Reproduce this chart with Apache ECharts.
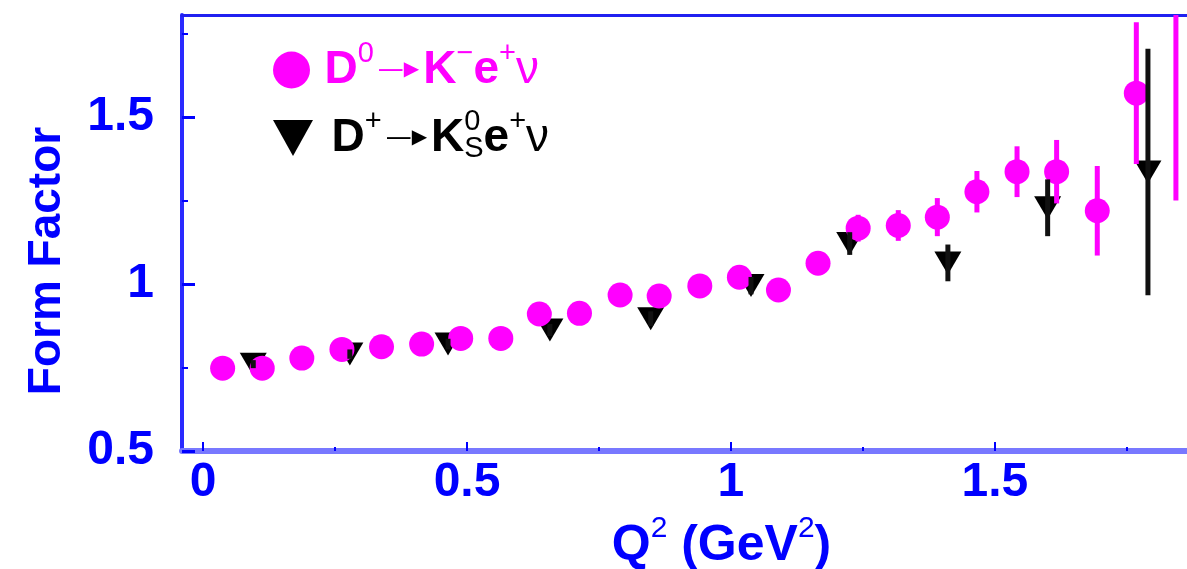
<!DOCTYPE html>
<html>
<head>
<meta charset="utf-8">
<script src="https://cdn.jsdelivr.net/npm/echarts@6/dist/echarts.min.js"></script>
<style>
  html, body { margin: 0; padding: 0; background: #ffffff; }
  #chart { width: 1187px; height: 569px; }
</style>
</head>
<body>
<div id="chart"></div>
<script>
// D0 -> K- e+ nu : Q^2 bin centres (GeV^2), form factor, uncertainty
const d0Q2 = [0.037, 0.112, 0.187, 0.263, 0.338, 0.414, 0.488, 0.564, 0.637, 0.713,
              0.790, 0.864, 0.941, 1.016, 1.090, 1.165, 1.241, 1.317, 1.391, 1.466,
              1.542, 1.617, 1.694, 1.768, 1.843];
const d0FF  = [0.748, 0.748, 0.778, 0.804, 0.812, 0.820, 0.837, 0.837, 0.910, 0.912,
              0.967, 0.964, 0.994, 1.020, 0.982, 1.062, 1.167, 1.175, 1.200, 1.276,
              1.336, 1.336, 1.219, 1.571, 1.900];
const d0Err = [0.010, 0.010, 0.012, 0.012, 0.014, 0.015, 0.016, 0.017, 0.018, 0.020,
              0.022, 0.024, 0.026, 0.028, 0.030, 0.034, 0.040, 0.046, 0.057, 0.062,
              0.076, 0.095, 0.134, 0.212, 0.650];

// D+ -> K0S e+ nu
const dpQ2  = [0.095, 0.278, 0.464, 0.657, 0.848, 1.038, 1.225, 1.411, 1.600, 1.790];
const dpFF  = [0.760, 0.790, 0.820, 0.862, 0.896, 0.995, 1.121, 1.063, 1.228, 1.335];
const dpErr = [0.012, 0.014, 0.016, 0.018, 0.022, 0.026, 0.034, 0.055, 0.085, 0.369];

// axis ranges and tick positions
const xMin = -0.04, xMax = 1.864;
const yMin = 0.5,   yMax = 1.805;
const xTicks = [0, 0.5, 1, 1.5];
const xMinorTicks = [0.25, 0.75, 1.25, 1.75];
const yTicks = [0.5, 1, 1.5];
const yMinorTicks = [0.75, 1.25, 1.75];

const FONT = "'Liberation Sans', Arial, Helvetica, sans-serif";
const BLUE = '#0000ff';
const MAGENTA = '#ff00ff';

function errorBars(xs, ys, errs, color, width, z) {
  return {
    type: 'custom',
    z: z,
    clip: true,
    silent: true,
    data: xs.map((x, i) => [x, ys[i] - errs[i], ys[i] + errs[i]]),
    encode: { x: 0, y: [1, 2] },
    renderItem: function (params, api) {
      const lo = api.coord([api.value(0), api.value(1)]);
      const hi = api.coord([api.value(0), api.value(2)]);
      return {
        type: 'line',
        shape: { x1: lo[0], y1: lo[1], x2: hi[0], y2: hi[1] },
        style: { stroke: color, lineWidth: width }
      };
    }
  };
}

// rich-text styles for the legend labels (superscripts, subscript, arrow)
function legendRich(color) {
  return {
    b: { fontSize: 46, fontWeight: 'bold', color: color, fontFamily: FONT, lineHeight: 62 },
    n: { fontSize: 46, fontWeight: 'normal', color: color, fontFamily: FONT, lineHeight: 62 },
    s: { fontSize: 29, color: color, fontFamily: FONT, verticalAlign: 'top', lineHeight: 30 },
    z: { fontSize: 29, color: color, fontFamily: FONT, verticalAlign: 'top', lineHeight: 30, width: 0 },
    u: { fontSize: 29, color: color, fontFamily: FONT, verticalAlign: 'bottom', lineHeight: 30, height: 40 },
    l: { fontSize: 26, color: color, fontFamily: "'DejaVu Sans', sans-serif", lineHeight: 62,
         padding: [0, 0, 0, 4] },
    h: { fontSize: 20, color: color, fontFamily: "'DejaVu Sans', sans-serif", lineHeight: 62,
         padding: [0, 4, 0, 0] }
  };
}
const ARROW = '{l|\u2014}{h|\u25B6}';

const TRI = 'path://M0,0L40,0L20,36Z';

const chart = echarts.init(document.getElementById('chart'), null, { renderer: 'canvas' });

chart.setOption({
  backgroundColor: '#ffffff',
  animation: false,
  grid: { left: 182, right: 0, top: 15, bottom: 118, containLabel: false, outerBoundsMode: 'none' },
  legend: [
    {
      data: [{ name: 'D0', icon: 'circle' }],
      left: 268, top: 34,
      itemWidth: 38, itemHeight: 37,
      selectedMode: false,
      formatter: () => '{b|D}{s|0}' + ARROW + '{b|K}{s|\u2212}{b|e}{s|+}{n|\u03BD}',
      textStyle: { padding: [0, 0, 0, 9], rich: legendRich(MAGENTA) }
    },
    {
      data: [{ name: 'Dp', icon: TRI }],
      left: 268, top: 102,
      itemWidth: 41, itemHeight: 36,
      selectedMode: false,
      formatter: () => '{b|D}{s|+}' + ARROW + '{b|K}{z|0}{u|S}{b|e}{s|+}{n|\u03BD}',
      textStyle: { padding: [0, 0, 0, 13], rich: legendRich('#000000') }
    }
  ],
  xAxis: [
    {
      type: 'value', min: xMin, max: xMax, position: 'bottom',
      axisLine: { show: true, onZero: false, lineStyle: { color: '#7878ff', width: 6 } },
      axisTick: { show: true, inside: true, length: 9, customValues: xTicks,
                  lineStyle: { color: BLUE, width: 2 } },
      axisLabel: { show: true, customValues: xTicks, margin: 8, color: BLUE,
                   fontSize: 48, fontWeight: 'bold', fontFamily: FONT },
      splitLine: { show: false },
      name: '{b|Q}{s|2}{b| (GeV}{s|2}{b|)}',
      nameLocation: 'middle', nameGap: 63,
      nameTextStyle: {
        padding: [0, 0, 0, 74],
        rich: {
          b: { fontSize: 50, fontWeight: 'bold', color: BLUE, fontFamily: FONT, lineHeight: 64 },
          s: { fontSize: 30, fontWeight: 'normal', color: BLUE, fontFamily: FONT, verticalAlign: 'top', lineHeight: 30 }
        }
      }
    },
    {
      type: 'value', min: xMin, max: xMax, position: 'bottom',
      axisLine: { show: false, onZero: false },
      axisTick: { show: true, inside: true, length: 4, customValues: xMinorTicks,
                  lineStyle: { color: BLUE, width: 2 } },
      axisLabel: { show: false },
      splitLine: { show: false }
    },
    {
      type: 'value', min: xMin, max: xMax, position: 'top',
      axisLine: { show: true, onZero: false, lineStyle: { color: '#2020f0', width: 3 } },
      axisTick: { show: false },
      axisLabel: { show: false },
      splitLine: { show: false }
    }
  ],
  yAxis: [
    {
      type: 'value', min: yMin, max: yMax, position: 'left',
      axisLine: { show: true, onZero: false, lineStyle: { color: '#2a2aff', width: 4 } },
      axisTick: { show: true, inside: true, length: 13, customValues: yTicks,
                  lineStyle: { color: BLUE, width: 3 } },
      axisLabel: { show: true, customValues: yTicks, margin: 28, color: BLUE,
                   fontSize: 48, fontWeight: 'bold', fontFamily: FONT },
      splitLine: { show: false },
      name: 'Form Factor',
      nameLocation: 'middle', nameGap: 112,
      nameTextStyle: { color: BLUE, fontSize: 46, fontWeight: 'bold', fontFamily: FONT,
                       padding: [0, 56, 0, 0] }
    },
    {
      type: 'value', min: yMin, max: yMax, position: 'left',
      axisLine: { show: false, onZero: false },
      axisTick: { show: true, inside: true, length: 6, customValues: yMinorTicks,
                  lineStyle: { color: BLUE, width: 2 } },
      axisLabel: { show: false },
      splitLine: { show: false }
    }
  ],
  series: [
    {
      name: 'Dp', type: 'scatter', z: 2,
      symbol: TRI, symbolSize: [27, 23],
      itemStyle: { color: '#000000', opacity: 1 },
      data: dpQ2.map((x, i) => [x, dpFF[i]])
    },
    errorBars(d0Q2, d0FF, d0Err, MAGENTA, 5, 3),
    {
      name: 'D0', type: 'scatter', z: 4,
      symbol: 'circle', symbolSize: 25,
      itemStyle: { color: MAGENTA, opacity: 1 },
      data: d0Q2.map((x, i) => [x, d0FF[i]])
    },
    errorBars(dpQ2, dpFF, dpErr, '#111111', 5, 5)
  ]
});
</script>
</body>
</html>
